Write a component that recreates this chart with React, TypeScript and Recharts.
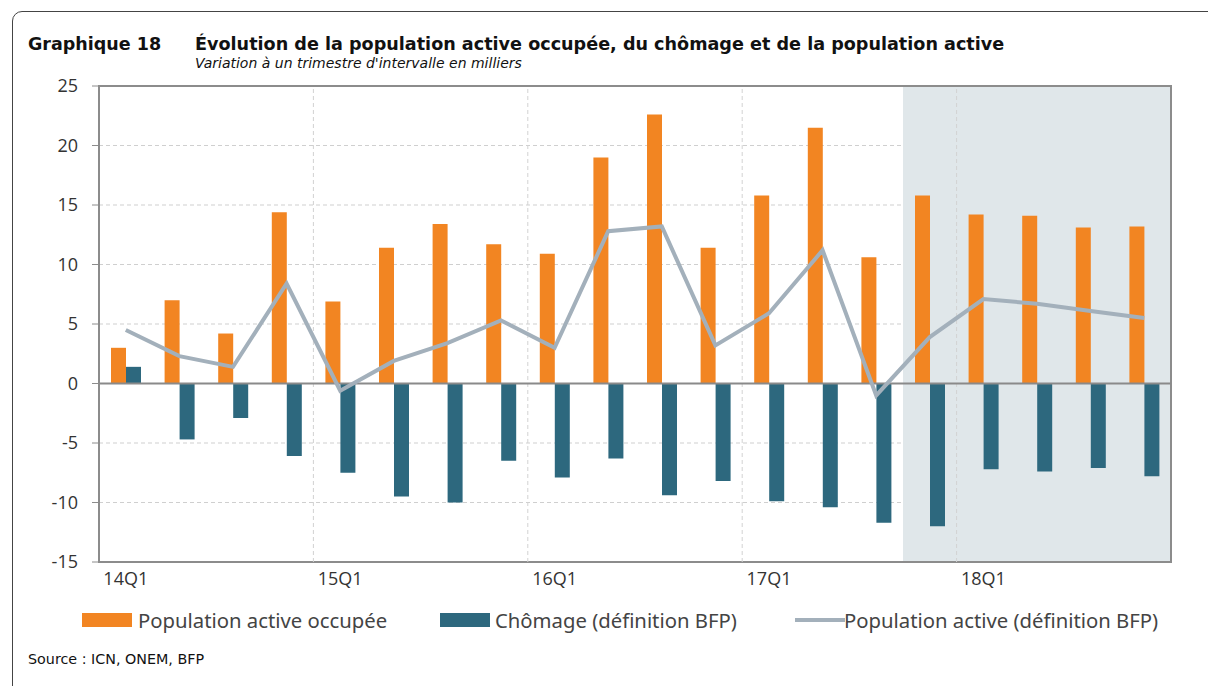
import React from 'react';
import { ComposedChart, Bar, Line, XAxis, YAxis, CartesianGrid, ReferenceArea, ReferenceLine } from 'recharts';

const quarters = [
  '14Q1', '14Q2', '14Q3', '14Q4', '15Q1', '15Q2', '15Q3', '15Q4', '16Q1', '16Q2',
  '16Q3', '16Q4', '17Q1', '17Q2', '17Q3', '17Q4', '18Q1', '18Q2', '18Q3', '18Q4',
];
const occupied = [3.0, 7.0, 4.2, 14.4, 6.9, 11.4, 13.4, 11.7, 10.9, 19.0, 22.6, 11.4, 15.8, 21.5, 10.6, 15.8, 14.2, 14.1, 13.1, 13.2];
const unemployment = [1.4, -4.7, -2.9, -6.1, -7.5, -9.5, -10.0, -6.5, -7.9, -6.3, -9.4, -8.2, -9.9, -10.4, -11.7, -12.0, -7.2, -7.4, -7.1, -7.8];
const activePop = [4.5, 2.3, 1.4, 8.4, -0.6, 1.9, 3.4, 5.3, 3.0, 12.8, 13.2, 3.2, 5.9, 11.2, -1.0, 3.9, 7.1, 6.7, 6.1, 5.5];
const yTicks = [-15, -10, -5, 0, 5, 10, 15, 20, 25];
const yearStarts = ['15Q1', '16Q1', '17Q1', '18Q1'];
const forecastFrom = '17Q4';
const forecastTo = '18Q4';

const ORANGE = '#F28522';
const TEAL = '#2D687E';
const GREY_LINE = '#A3B0BB';
const SHADE = '#E0E7EA';

const data = quarters.map((q, i) => ({
  q,
  occupied: occupied[i],
  unemployment: unemployment[i],
  active: activePop[i],
}));

const tickFont = { fontFamily: '"Open Sans", "Noto Sans", sans-serif', fontSize: 18, fill: '#333' };

const App: React.FC = () => {
  return (
    <div style={{ position: 'absolute', left: 0, top: 0, width: 1208, height: 686, background: '#fff', overflow: 'hidden' }}>
      {/* frame */}
      <div style={{ position: 'absolute', left: 12, top: 11, width: 1230, height: 720, border: '1.5px solid #444', borderRadius: 10 }} />

      <div style={{ position: 'absolute', left: 28, top: 34, fontFamily: '"DejaVu Sans", sans-serif', fontWeight: 'bold', fontSize: 17.5, color: '#111', whiteSpace: 'nowrap' }}>
        Graphique 18
      </div>
      <div style={{ position: 'absolute', left: 195, top: 34, fontFamily: '"DejaVu Sans", sans-serif', fontWeight: 'bold', fontSize: 17.6, color: '#111', whiteSpace: 'nowrap' }}>
        Évolution de la population active occupée, du chômage et de la population active
      </div>
      <div style={{ position: 'absolute', left: 195, top: 55, fontFamily: '"DejaVu Sans", sans-serif', fontStyle: 'italic', fontSize: 14, color: '#111', whiteSpace: 'nowrap' }}>
        Variation à un trimestre d'intervalle en milliers
      </div>

      <div style={{ position: 'absolute', left: 0, top: 0 }}>
        <ComposedChart
          width={1208}
          height={600}
          data={data}
          margin={{ top: 86, right: 37, left: 39, bottom: 8 }}
          barGap={0}
        >
          <ReferenceArea x1={forecastFrom} x2={forecastTo} y1={-15} y2={25} fill={SHADE} fillOpacity={1} stroke="none" />
          <CartesianGrid vertical={false} stroke="#cfcfcf" strokeDasharray="4 3" />
          {yearStarts.map((q) => (
            <ReferenceLine key={q} x={q} position="start" stroke="#d2d2d2" strokeDasharray="4 3" />
          ))}
          <XAxis
            dataKey="q"
            interval={3}
            axisLine={false}
            tickLine={false}
            tickMargin={4}
            height={30}
            tick={tickFont}
          />
          <YAxis
            domain={[-15, 25]}
            ticks={yTicks}
            width={60}
            tickSize={7}
            tickMargin={14}
            axisLine={{ stroke: '#8c8c8c', strokeWidth: 2 }}
            tickLine={{ stroke: '#8c8c8c' }}
            tick={tickFont}
          />
          <Bar dataKey="occupied" fill={ORANGE} barSize={15} isAnimationActive={false} />
          <Bar dataKey="unemployment" fill={TEAL} barSize={15} isAnimationActive={false} />
          <ReferenceLine y={0} stroke="#8a8a8a" strokeWidth={2} />
          <ReferenceArea x1={quarters[0]} x2={quarters[quarters.length - 1]} y1={-15} y2={25} fill="none" stroke="#8c8c8c" strokeWidth={2} />
          <Line dataKey="active" type="linear" stroke={GREY_LINE} strokeWidth={4} dot={false} isAnimationActive={false} />
        </ComposedChart>
      </div>

      {/* legend */}
      <div style={{ position: 'absolute', left: 0, top: 606, width: 1208, height: 28, fontFamily: '"Noto Sans", sans-serif', fontSize: 20.3, color: '#444' }}>
        <div style={{ position: 'absolute', left: 82, top: 7, width: 50, height: 14, background: ORANGE }} />
        <div style={{ position: 'absolute', left: 138, top: 0, whiteSpace: 'nowrap' }}>Population active occupée</div>
        <div style={{ position: 'absolute', left: 440, top: 7, width: 50, height: 14, background: TEAL }} />
        <div style={{ position: 'absolute', left: 495, top: 0, whiteSpace: 'nowrap' }}>Chômage (définition BFP)</div>
        <div style={{ position: 'absolute', left: 795, top: 12, width: 50, height: 4, background: GREY_LINE }} />
        <div style={{ position: 'absolute', left: 844, top: 0, whiteSpace: 'nowrap' }}>Population active (définition BFP)</div>
      </div>

      <div style={{ position: 'absolute', left: 28, top: 651, fontFamily: '"DejaVu Sans", sans-serif', fontSize: 14.3, color: '#111', whiteSpace: 'nowrap' }}>
        Source : ICN, ONEM, BFP
      </div>
    </div>
  );
};

export default App;
